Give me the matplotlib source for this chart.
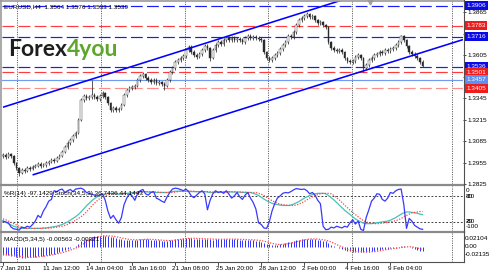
import matplotlib
matplotlib.use("Agg")
import matplotlib.pyplot as plt
from matplotlib.lines import Line2D
from matplotlib.transforms import blended_transform_factory as blend
from matplotlib import font_manager
import numpy as np

# ---------------- data ----------------
symbol_header = "EURUSD,H4  1.3564 1.3576 1.3533 1.3539"
open_first = 1.2995
closes = [
1.3001, 1.2989, 1.3007, 1.2995, 1.2952, 1.2922, 1.2892, 1.2910, 1.2904, 1.2922,
1.2916, 1.2928, 1.2934, 1.2946, 1.2934, 1.2940, 1.2952, 1.2958, 1.2970, 1.2964,
1.2983, 1.2995, 1.3019, 1.3049, 1.3073, 1.3092, 1.3116, 1.3134, 1.3213, 1.3334,
1.3358, 1.3346, 1.3352, 1.3364, 1.3352, 1.3340, 1.3358, 1.3376, 1.3352, 1.3316,
1.3273, 1.3285, 1.3273, 1.3279, 1.3304, 1.3364, 1.3394, 1.3406, 1.3412, 1.3419,
1.3455, 1.3479, 1.3491, 1.3467, 1.3455, 1.3443, 1.3455, 1.3437, 1.3443, 1.3431,
1.3419, 1.3455, 1.3503, 1.3528, 1.3564, 1.3576, 1.3588, 1.3600, 1.3637, 1.3655,
1.3624, 1.3606, 1.3594, 1.3612, 1.3637, 1.3661, 1.3649, 1.3588, 1.3637, 1.3667,
1.3685, 1.3673, 1.3697, 1.3709, 1.3697, 1.3709, 1.3697, 1.3703, 1.3697, 1.3685,
1.3709, 1.3721, 1.3709, 1.3715, 1.3709, 1.3703, 1.3697, 1.3624, 1.3588, 1.3576,
1.3588, 1.3606, 1.3618, 1.3643, 1.3667, 1.3685, 1.3721, 1.3715, 1.3746, 1.3788,
1.3818, 1.3830, 1.3842, 1.3855, 1.3836, 1.3842, 1.3818, 1.3800, 1.3806, 1.3788,
1.3776, 1.3685, 1.3649, 1.3637, 1.3630, 1.3637, 1.3624, 1.3588, 1.3570, 1.3564,
1.3570, 1.3594, 1.3606, 1.3588, 1.3528, 1.3546, 1.3576, 1.3588, 1.3606, 1.3612,
1.3624, 1.3618, 1.3637, 1.3630, 1.3643, 1.3649, 1.3667, 1.3685, 1.3721, 1.3697,
1.3661, 1.3624, 1.3612, 1.3600, 1.3588, 1.3564, 1.3539]
highs = [
1.3013, 1.3011, 1.3017, 1.3015, 1.3003, 1.2960, 1.2930, 1.2920, 1.2922, 1.2932,
1.2934, 1.2940, 1.2946, 1.2958, 1.2956, 1.2952, 1.2962, 1.2970, 1.2982, 1.2980,
1.2993, 1.3007, 1.3031, 1.3061, 1.3085, 1.3104, 1.3128, 1.3146, 1.3225, 1.3346,
1.3372, 1.3370, 1.3366, 1.3455, 1.3376, 1.3362, 1.3370, 1.3388, 1.3384, 1.3360,
1.3324, 1.3297, 1.3295, 1.3291, 1.3316, 1.3376, 1.3406, 1.3418, 1.3424, 1.3431,
1.3467, 1.3491, 1.3503, 1.3499, 1.3477, 1.3465, 1.3465, 1.3465, 1.3453, 1.3451,
1.3441, 1.3465, 1.3513, 1.3540, 1.3576, 1.3588, 1.3600, 1.3612, 1.3649, 1.3667,
1.3665, 1.3634, 1.3616, 1.3622, 1.3649, 1.3673, 1.3671, 1.3657, 1.3649, 1.3679,
1.3697, 1.3695, 1.3709, 1.3721, 1.3719, 1.3721, 1.3719, 1.3715, 1.3713, 1.3707,
1.3721, 1.3733, 1.3731, 1.3727, 1.3725, 1.3719, 1.3713, 1.3705, 1.3632, 1.3598,
1.3600, 1.3618, 1.3630, 1.3655, 1.3679, 1.3697, 1.3733, 1.3733, 1.3758, 1.3800,
1.3830, 1.3842, 1.3854, 1.3866, 1.3863, 1.3852, 1.3850, 1.3826, 1.3816, 1.3814,
1.3796, 1.3784, 1.3693, 1.3659, 1.3647, 1.3647, 1.3647, 1.3632, 1.3596, 1.3580,
1.3580, 1.3606, 1.3618, 1.3614, 1.3596, 1.3558, 1.3588, 1.3600, 1.3618, 1.3624,
1.3636, 1.3634, 1.3649, 1.3647, 1.3655, 1.3661, 1.3679, 1.3697, 1.3730, 1.3729,
1.3705, 1.3669, 1.3634, 1.3622, 1.3610, 1.3596, 1.3576]
lows = [
1.2985, 1.2979, 1.2981, 1.2985, 1.2942, 1.2910, 1.2874, 1.2884, 1.2894, 1.2898,
1.2906, 1.2908, 1.2920, 1.2926, 1.2924, 1.2926, 1.2930, 1.2942, 1.2950, 1.2954,
1.2956, 1.2975, 1.2987, 1.3011, 1.3039, 1.3061, 1.3082, 1.3104, 1.3126, 1.3205,
1.3322, 1.3334, 1.3336, 1.3340, 1.3340, 1.3328, 1.3330, 1.3348, 1.3340, 1.3304,
1.3261, 1.3263, 1.3263, 1.3261, 1.3271, 1.3296, 1.3354, 1.3384, 1.3396, 1.3402,
1.3411, 1.3445, 1.3469, 1.3457, 1.3445, 1.3433, 1.3433, 1.3427, 1.3427, 1.3421,
1.3394, 1.3411, 1.3445, 1.3493, 1.3518, 1.3554, 1.3566, 1.3578, 1.3590, 1.3627,
1.3614, 1.3596, 1.3584, 1.3586, 1.3602, 1.3627, 1.3639, 1.3570, 1.3580, 1.3627,
1.3657, 1.3663, 1.3663, 1.3687, 1.3687, 1.3687, 1.3687, 1.3687, 1.3687, 1.3675,
1.3675, 1.3699, 1.3699, 1.3699, 1.3699, 1.3693, 1.3687, 1.3614, 1.3578, 1.3564,
1.3566, 1.3578, 1.3596, 1.3608, 1.3633, 1.3657, 1.3675, 1.3705, 1.3705, 1.3736,
1.3778, 1.3808, 1.3820, 1.3832, 1.3826, 1.3826, 1.3808, 1.3790, 1.3790, 1.3778,
1.3766, 1.3675, 1.3639, 1.3627, 1.3620, 1.3620, 1.3614, 1.3578, 1.3560, 1.3554,
1.3554, 1.3560, 1.3584, 1.3578, 1.3503, 1.3518, 1.3536, 1.3566, 1.3578, 1.3596,
1.3602, 1.3608, 1.3608, 1.3620, 1.3620, 1.3633, 1.3639, 1.3657, 1.3675, 1.3687,
1.3651, 1.3614, 1.3602, 1.3590, 1.3578, 1.3554, 1.3533]

wpr = [
-78, -80, -82, -92, -96, -97, -99, -92, -94, -90,
-92, -86, -78, -65, -70, -55, -45, -32, -28, -8,
-10, -6, -4, -12, -8, -5, -10, -4, -3, -2,
-5, -12, -14, -16, -18, -20, -18, -15, -30, -55,
-72, -65, -75, -83, -70, -40, -25, -15, -20, -30,
-15, -8, -5, -15, -18, -12, -10, -25, -28, -32,
-35, -22, -12, -4, -2, -3, -5, -8, -4, -10,
-20, -24, -18, -12, -8, -15, -52, -30, -15, -8,
-12, -10, -14, -8, -16, -25, -20, -12, -22, -28,
-18, -12, -25, -35, -50, -82, -86, -94, -95, -80,
-55, -38, -25, -20, -14, -12, -13, -10, -6, -3,
-4, -5, -4, -8, -15, -12, -18, -30, -38, -90,
-98, -97, -92, -94, -90, -92, -94, -90, -92, -82,
-75, -85, -78, -97, -100, -70, -52, -32, -25, -15,
-16, -28, -32, -25, -12, -14, -8, -5, -4, -40,
-95, -72, -78, -88, -92, -96, -97.14]

stoch_main = [
22, 19, 16, 13, 10, 8, 6, 5, 5, 5,
5, 5, 5, 5, 5, 6, 6, 7, 8, 9,
10, 12, 14, 17, 20, 24, 28, 32, 37, 43,
50, 57, 63, 69, 74, 78, 81, 83, 85, 86,
86, 86, 85, 84, 84, 85, 86, 87, 88, 88,
89, 90, 90, 90, 89, 89, 89, 88, 88, 88,
88, 88, 89, 90, 91, 91, 91, 91, 91, 91,
90, 90, 90, 90, 90, 90, 89, 88, 88, 89,
89, 89, 89, 90, 90, 89, 89, 89, 89, 88,
88, 88, 88, 86, 84, 81, 77, 73, 69, 66,
63, 61, 60, 59, 58, 58, 58, 59, 61, 64,
67, 71, 75, 78, 81, 83, 85, 86, 86, 86,
85, 81, 76, 71, 65, 59, 53, 47, 42, 37,
32, 27, 23, 20, 17, 16, 16, 16, 17, 18,
19, 20, 21, 22, 24, 27, 30, 34, 38, 41,
43, 43, 42, 41, 40, 38, 36.74]
stoch_signal = [
27, 25, 22, 19, 16, 13, 10, 8, 6, 5,
5, 5, 5, 5, 5, 5, 5, 6, 6, 7,
8, 9, 10, 12, 14, 17, 20, 24, 28, 32,
37, 43, 50, 57, 63, 69, 74, 78, 81, 83,
85, 86, 86, 86, 85, 84, 84, 85, 86, 87,
88, 88, 89, 90, 90, 90, 89, 89, 89, 88,
88, 88, 88, 88, 89, 90, 91, 91, 91, 91,
91, 91, 90, 90, 90, 90, 90, 90, 89, 88,
88, 89, 89, 89, 89, 90, 90, 89, 89, 89,
89, 88, 88, 88, 88, 86, 84, 81, 77, 73,
69, 66, 63, 61, 60, 59, 58, 58, 58, 59,
61, 64, 67, 71, 75, 78, 81, 83, 85, 86,
86, 86, 85, 81, 76, 71, 65, 59, 53, 47,
42, 37, 32, 27, 23, 20, 18, 17, 16, 16,
16, 17, 18, 19, 20, 21, 23, 25, 28, 32,
35, 38, 41, 42, 43, 44, 44.14]

macd_main = [
-0.0110, -0.0115, -0.0118, -0.0122, -0.0130, -0.0138, -0.0146, -0.0148, -0.0148, -0.0146,
-0.0144, -0.0140, -0.0135, -0.0130, -0.0126, -0.0120, -0.0113, -0.0106, -0.0098, -0.0090,
-0.0080, -0.0068, -0.0055, -0.0040, -0.0026, -0.0012, 0.0004, 0.0022, 0.0050, 0.0090,
0.0115, 0.0130, 0.0140, 0.0152, 0.0160, 0.0165, 0.0170, 0.0175, 0.0172, 0.0165,
0.0155, 0.0148, 0.0138, 0.0128, 0.0120, 0.0115, 0.0112, 0.0110, 0.0108, 0.0110,
0.0115, 0.0120, 0.0122, 0.0120, 0.0116, 0.0112, 0.0110, 0.0106, 0.0102, 0.0098,
0.0095, 0.0098, 0.0105, 0.0112, 0.0120, 0.0126, 0.0130, 0.0132, 0.0135, 0.0136,
0.0132, 0.0128, 0.0125, 0.0124, 0.0125, 0.0127, 0.0124, 0.0116, 0.0115, 0.0117,
0.0120, 0.0120, 0.0122, 0.0123, 0.0122, 0.0120, 0.0118, 0.0117, 0.0115, 0.0112,
0.0112, 0.0113, 0.0110, 0.0106, 0.0100, 0.0092, 0.0085, 0.0070, 0.0055, 0.0045,
0.0040, 0.0040, 0.0042, 0.0048, 0.0055, 0.0062, 0.0072, 0.0080, 0.0090, 0.0102,
0.0112, 0.0120, 0.0125, 0.0128, 0.0126, 0.0122, 0.0118, 0.0112, 0.0106, 0.0098,
0.0090, 0.0062, 0.0038, 0.0018, 0.0000, -0.0016, -0.0030, -0.0042, -0.0052, -0.0060,
-0.0064, -0.0064, -0.0062, -0.0062, -0.0068, -0.0068, -0.0064, -0.0058, -0.0050, -0.0042,
-0.0035, -0.0030, -0.0024, -0.0020, -0.0015, -0.0010, -0.0004, 0.0004, 0.0015, 0.0018,
0.0012, 0.0000, -0.0012, -0.0024, -0.0034, -0.0046, -0.00563]
macd_signal = [
-0.0100, -0.0104, -0.0108, -0.0113, -0.0118, -0.0124, -0.0130, -0.0136, -0.0141, -0.0145,
-0.0146, -0.0145, -0.0142, -0.0139, -0.0135, -0.0130, -0.0125, -0.0119, -0.0113, -0.0105,
-0.0097, -0.0088, -0.0078, -0.0067, -0.0054, -0.0040, -0.0026, -0.0012, 0.0008, 0.0027,
0.0052, 0.0077, 0.0105, 0.0125, 0.0139, 0.0149, 0.0157, 0.0164, 0.0168, 0.0169,
0.0167, 0.0163, 0.0156, 0.0147, 0.0138, 0.0130, 0.0123, 0.0117, 0.0113, 0.0111,
0.0111, 0.0113, 0.0115, 0.0117, 0.0119, 0.0118, 0.0116, 0.0113, 0.0109, 0.0106,
0.0102, 0.0100, 0.0100, 0.0102, 0.0106, 0.0112, 0.0119, 0.0125, 0.0129, 0.0132,
0.0133, 0.0133, 0.0131, 0.0129, 0.0127, 0.0126, 0.0125, 0.0123, 0.0121, 0.0120,
0.0118, 0.0118, 0.0119, 0.0120, 0.0121, 0.0121, 0.0121, 0.0120, 0.0119, 0.0116,
0.0115, 0.0114, 0.0113, 0.0111, 0.0108, 0.0104, 0.0099, 0.0091, 0.0082, 0.0069,
0.0059, 0.0050, 0.0044, 0.0043, 0.0045, 0.0049, 0.0056, 0.0063, 0.0072, 0.0081,
0.0091, 0.0101, 0.0110, 0.0117, 0.0122, 0.0124, 0.0124, 0.0121, 0.0117, 0.0111,
0.0105, 0.0094, 0.0079, 0.0062, 0.0042, 0.0024, 0.0008, -0.0008, -0.0028, -0.0040,
-0.0052, -0.0058, -0.0062, -0.0063, -0.0064, -0.0065, -0.0065, -0.0064, -0.0062, -0.0057,
-0.0050, -0.0043, -0.0036, -0.0030, -0.0025, -0.0020, -0.0015, -0.0009, -0.0002, 0.0003,
0.0007, 0.0010, 0.0007, 0.0001, -0.0008, -0.0020, -0.00321]

time_labels = ["7 Jan 2011", "11 Jan 12:00", "14 Jan 04:00", "18 Jan 16:00", "21 Jan 08:00",
               "25 Jan 20:00", "28 Jan 12:00", "2 Feb 00:00", "4 Feb 16:00", "9 Feb 04:00"]
time_label_bars = [0, 16, 32, 48, 64, 80, 96, 112, 128, 144]
week_grid_bars = [5.2, 36.4, 67.6, 98.6, 129.7, 167.0]

price_ticks = [1.2825, 1.2955, 1.3085, 1.3215, 1.3345, 1.3475, 1.3605, 1.3735, 1.3865]
hidden_ticks = [1.3475, 1.3735]
level_prices = [1.3906, 1.3783, 1.3716, 1.3536, 1.3501, 1.3457, 1.3405]
level_kinds = ["blue", "red", "blue", "blue", "red", "light", "pink"]

chan_lower = [(11.0, 1.2880), (150.0, 1.3592)]
chan_upper = [(0.0, 1.3290), (120.0, 1.3908)]

ind_title = "%R(14) -97.1429 Stoch(34,5,3) 36.7436 44.1443"
macd_title = "MACD(5,34,5) -0.00563 -0.00321"

# ---------------- fonts ----------------
_names = {f.name for f in font_manager.fontManager.ttflist}
if "Liberation Sans Narrow" in _names:
    SMALL = dict(family="Liberation Sans Narrow", fontsize=5.6)
else:
    SMALL = dict(family="Liberation Sans", fontsize=4.6)

# ---------------- layout ----------------
W, H = 490, 280
def fx(p): return p / W
def fy(p): return 1 - p / H

fig = plt.figure(figsize=(4.9, 2.8), dpi=100)
fig.patch.set_facecolor("white")
X0, X1 = 2, 463
XLIM = (-0.37, 171.0)

ax = fig.add_axes([fx(X0), fy(184), (X1 - X0) / W, 183 / H])
axi = fig.add_axes([fx(X0), fy(231), (X1 - X0) / W, 45 / H])
axm = fig.add_axes([fx(X0), fy(262), (X1 - X0) / W, 29 / H])
for a in (ax, axi, axm):
    a.set_xlim(*XLIM)
    for s in a.spines.values():
        s.set_visible(False)
    a.set_xticks([])
    a.set_facecolor("white")

TXT = dict(color="black", **SMALL)

n = len(closes)
xs = np.arange(n)
opens = [open_first] + closes[:-1]

# ---------------- main price panel ----------------
ax.set_ylim(1.2825, 1.39333)
for g in week_grid_bars:
    for a in (ax, axi, axm):
        a.axvline(g, color="#303030", lw=0.6, ls=(0, (1.2, 1.6)), zorder=1)

dash = (0, (10, 3.6))
colors = {"blue": "#1a1aff", "red": "#ff3b3b", "light": "#6f9bf0", "pink": "#ff8c8c"}
boxcol = {"blue": "#0a0ae6", "red": "#f01c1c", "light": "#5f8ff0", "pink": "#f01c1c"}
for p, k in zip(level_prices, level_kinds):
    ls = "-" if k == "light" else dash
    ax.axhline(p, color=colors[k], lw=0.85, ls=ls, zorder=2)

ax.vlines(xs, lows, highs, color="#2a2a2a", lw=0.55, zorder=3)
for i in range(n):
    o, c = opens[i], closes[i]
    lo, hi = min(o, c), max(o, c)
    if hi - lo < 0.00015:
        hi = lo + 0.00015
    ax.bar(i, hi - lo, bottom=lo, width=0.6,
           facecolor="white" if c >= o else "#2a2a2a",
           edgecolor="#2a2a2a", linewidth=0.3, zorder=4)

for pts in (chan_lower, chan_upper):
    (xa, ya), (xb, yb) = pts
    slope = (yb - ya) / (xb - xa)
    ax.plot([xa, XLIM[1]], [ya, ya + slope * (XLIM[1] - xa)],
            color="#0000ff", lw=1.15, zorder=5, solid_capstyle="butt")

ax.yaxis.tick_right()
ax.set_yticks(price_ticks)
ax.set_yticklabels(["" if t in hidden_ticks else f"{t:.4f}" for t in price_ticks])
ax.tick_params(axis="y", length=2, width=0.5, pad=1.5, labelsize=SMALL["fontsize"], colors="black")
for lab in ax.get_yticklabels():
    lab.set_family(SMALL["family"])

tr = blend(ax.transAxes, ax.transData)
for p, k in zip(level_prices, level_kinds):
    ax.text(1.0065, p, f"{p:.4f}", transform=tr, ha="left", va="center",
            color="white", zorder=10, clip_on=False,
            bbox=dict(boxstyle="square,pad=0.3", facecolor=boxcol[k], edgecolor="none"),
            **SMALL)

ax.plot([136.4], [1.3928], marker="v", color="#a0a0a0", ms=3.5, zorder=6, clip_on=False)

fig.text(fx(4), fy(6.5), symbol_header, ha="left", va="center", **TXT)

# logo
t1 = fig.text(fx(8), fy(56), "Forex", ha="left", va="baseline", family="Lato",
              fontweight="bold", fontsize=16.5, color="#1e1e1e")
fig.canvas.draw()
bb = t1.get_window_extent()
fig.text(bb.x1 / W, fy(56), "4you", ha="left", va="baseline", family="Lato",
         fontweight="bold", fontsize=16.5, color="#5ea52e")

# ---------------- %R / stochastic panel ----------------
axi.set_ylim(-1.0, 103.0)
axw = axi.twinx()
axw.set_ylim(-101.0, 3.0)
axw.set_xlim(*XLIM)
for s in axw.spines.values():
    s.set_visible(False)
axw.set_yticks([])
axi.set_yticks([])
for lvl in (80, 20):
    axi.axhline(lvl, color="#202020", lw=0.6, ls=(0, (2.2, 2.2)), zorder=1)
axi.plot(xs, stoch_main, color="#45c3b4", lw=0.9, zorder=3)
axi.plot(xs, stoch_signal, color="#ff4545", lw=0.9, ls=(0, (1, 1.2)), zorder=3)
axw.plot(xs, wpr, color="#3838ff", lw=0.9, zorder=4)
fig.text(fx(4), fy(193.5), ind_title, ha="left", va="center", **TXT)
for lbl, py in (("0", 191), ("80", 196), ("-20", 196), ("20", 221.5), ("-80", 221.5), ("-100", 227)):
    fig.text(fx(466), fy(py), lbl, ha="left", va="center", **TXT)

# ---------------- MACD panel ----------------
axm.set_ylim(-0.02135, 0.02104)
axm.set_yticks([])
axm.vlines(xs, 0, macd_main, color="#3030ff", lw=0.7, zorder=3)
axm.plot(xs, macd_signal, color="#ff4545", lw=0.9, ls=(0, (1, 1.2)), zorder=4)
fig.text(fx(4), fy(240), macd_title, ha="left", va="center", **TXT)
for lbl, py in (("0.02104", 238), ("0.00", 246.5), ("-0.02135", 254.5)):
    fig.text(fx(465), fy(py), lbl, ha="left", va="center", **TXT)

# time labels
trm = blend(axm.transData, fig.transFigure)
for b, lbl in zip(time_label_bars, time_labels):
    axm.text(b - 1.0, fy(268.5), lbl, transform=trm, ha="left", va="center",
             clip_on=False, **TXT)
    axm.plot([b, b], [fy(262), fy(264.5)], transform=trm, color="black", lw=0.5, clip_on=False)

# ---------------- frame / separators ----------------
def fline(x0, y0, x1, y1, **kw):
    fig.add_artist(Line2D([fx(x0), fx(x1)], [fy(y0), fy(y1)], transform=fig.transFigure, **kw))

fline(0, 0.6, 464, 0.6, color="#9a9a9a", lw=1.2)
fline(0.6, 0, 0.6, 262, color="#9a9a9a", lw=1.2)
fline(0, 185, 464, 185, color="#8a8a8a", lw=1.6)
fline(0, 232.2, 464, 232.2, color="#8a8a8a", lw=1.6)
fline(0, 262, 464, 262, color="#505050", lw=0.8)
fline(463.5, 0, 463.5, 262, color="#505050", lw=0.8)

fig.savefig("out.png", dpi=100, facecolor="white")
